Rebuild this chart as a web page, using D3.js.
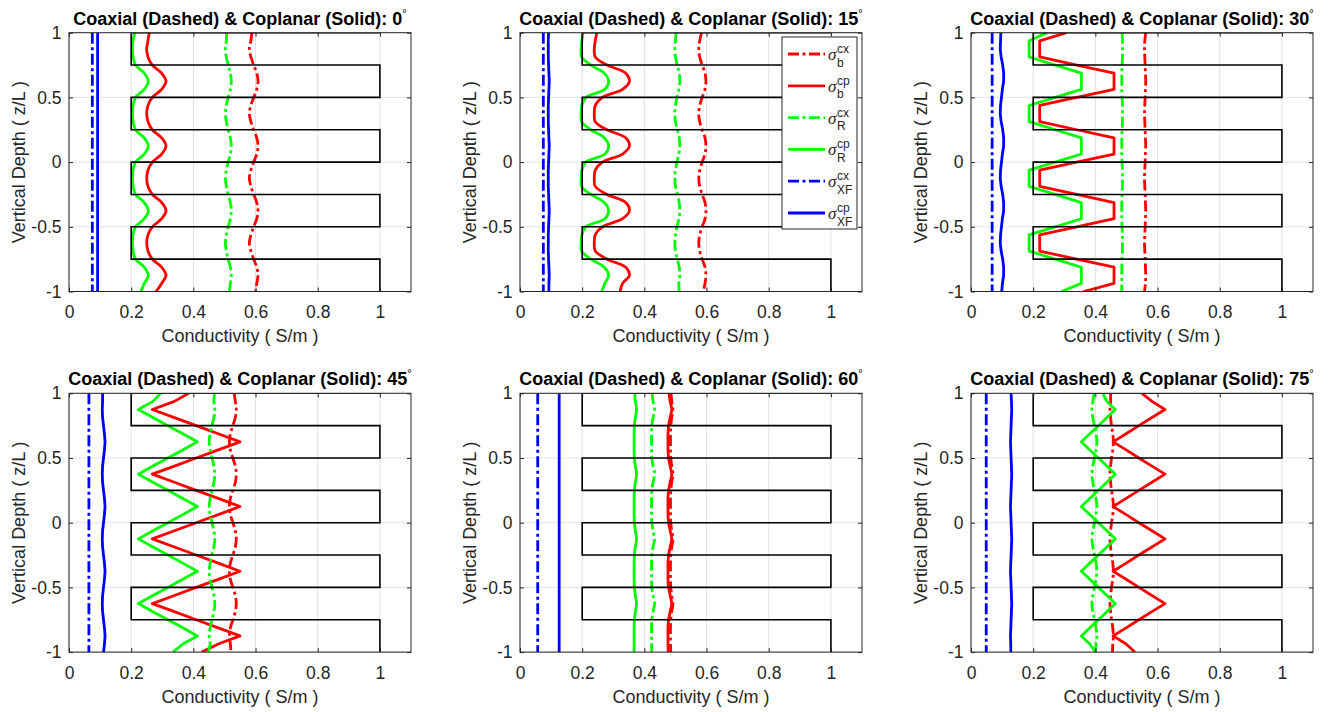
<!DOCTYPE html>
<html>
<head>
<meta charset="utf-8">
<script src="https://cdnjs.cloudflare.com/ajax/libs/d3/7.8.5/d3.min.js"></script>
<style>
  body { margin: 0; background: #fff; }
  svg { display: block; font-family: 'Liberation Sans', Arial, sans-serif; }
</style>
</head>
<body>
<div id="viz"></div>
<script>
// dip angles, one panel each
const angles = [0, 15, 30, 45, 60, 75];

// depth grid (z/L) shared by every curve
const depth = [1, 0.9375, 0.875, 0.8125, 0.75, 0.6875, 0.625, 0.5625, 0.5, 0.4375, 0.375, 0.3125, 0.25, 0.1875, 0.125, 0.0625,
  0, -0.0625, -0.125, -0.1875, -0.25, -0.3125, -0.375, -0.4375, -0.5, -0.5625, -0.625, -0.6875, -0.75, -0.8125, -0.875, -0.9375, -1];

const xTicks = [0, 0.2, 0.4, 0.6, 0.8, 1];
const yTicks = [-1, -0.5, 0, 0.5, 1];

// layered model (black staircase)
const layerSigma = [1, 0.2, 0.2, 1, 1, 0.2, 0.2, 1, 1, 0.2, 0.2, 1, 1, 0.2, 0.2, 1, 1];
const layerDepth = [1, 1, 0.75, 0.75, 0.5, 0.5, 0.25, 0.25, 0, 0, -0.25, -0.25, -0.5, -0.5, -0.75, -0.75, -1];

// one row per angle, values on the depth grid
const sigmaBcx = [
  [0.588, 0.585,0.580,0.585,0.594,0.604,0.608,0.604,0.594, 0.585,0.580,0.585,0.594,0.604,0.608,0.604,0.594, 0.585,0.580,0.585,0.594,0.604,0.608,0.604,0.594, 0.585,0.580,0.585,0.594,0.604,0.608,0.604, 0.600],
  [0.584, 0.578,0.575,0.578,0.586,0.595,0.598,0.595,0.586, 0.578,0.575,0.578,0.586,0.595,0.598,0.595,0.586, 0.578,0.575,0.578,0.586,0.595,0.598,0.595,0.586, 0.578,0.575,0.578,0.586,0.595,0.598,0.595, 0.589],
  [0.562, 0.559,0.558,0.559,0.560,0.561,0.562,0.561,0.560, 0.559,0.558,0.559,0.560,0.561,0.562,0.561,0.560, 0.559,0.558,0.559,0.560,0.561,0.562,0.561,0.560, 0.559,0.558,0.559,0.560,0.561,0.562,0.561, 0.558],
  [0.531, 0.535,0.538,0.535,0.527,0.519,0.516,0.519,0.527, 0.535,0.538,0.535,0.527,0.519,0.516,0.519,0.527, 0.535,0.538,0.535,0.527,0.519,0.516,0.519,0.527, 0.535,0.538,0.535,0.527,0.519,0.516,0.519, 0.521],
  [0.486, 0.488,0.492,0.488,0.485,0.484,0.484,0.484,0.485, 0.488,0.492,0.488,0.485,0.484,0.484,0.484,0.485, 0.488,0.492,0.488,0.485,0.484,0.484,0.484,0.485, 0.488,0.492,0.488,0.485,0.484,0.484,0.484, 0.485],
  [0.449, 0.449,0.447,0.449,0.452,0.456,0.458,0.456,0.452, 0.449,0.447,0.449,0.452,0.456,0.458,0.456,0.452, 0.449,0.447,0.449,0.452,0.456,0.458,0.456,0.452, 0.449,0.447,0.449,0.452,0.456,0.458,0.456, 0.455]
];

const sigmaBcp = [
  [0.258, 0.254,0.250,0.254,0.268,0.298,0.312,0.298,0.268, 0.254,0.250,0.254,0.268,0.298,0.312,0.298,0.268, 0.254,0.250,0.254,0.268,0.298,0.312,0.298,0.268, 0.254,0.250,0.254,0.268,0.298,0.312,0.298, 0.280],
  [0.247, 0.242,0.239,0.242,0.280,0.340,0.352,0.330,0.265, 0.242,0.239,0.242,0.280,0.340,0.352,0.330,0.265, 0.242,0.239,0.242,0.280,0.340,0.352,0.330,0.265, 0.242,0.239,0.242,0.280,0.340,0.352,0.330, 0.322],
  [0.307, 0.221,0.221,0.221,0.340,0.460,0.460,0.460,0.340, 0.221,0.221,0.221,0.340,0.460,0.460,0.460,0.340, 0.221,0.221,0.221,0.340,0.460,0.460,0.460,0.340, 0.221,0.221,0.221,0.340,0.460,0.460,0.460, 0.362],
  [0.385, 0.339,0.268,0.339,0.409,0.480,0.550,0.480,0.409, 0.339,0.268,0.339,0.409,0.480,0.550,0.480,0.409, 0.339,0.268,0.339,0.409,0.480,0.550,0.480,0.409, 0.339,0.268,0.339,0.409,0.480,0.550,0.480, 0.427],
  [0.479, 0.483,0.488,0.483,0.478,0.476,0.476,0.476,0.478, 0.483,0.488,0.483,0.478,0.476,0.476,0.476,0.478, 0.483,0.488,0.483,0.478,0.476,0.476,0.476,0.478, 0.483,0.488,0.483,0.478,0.476,0.476,0.476, 0.477],
  [0.550, 0.582,0.624,0.582,0.540,0.499,0.457,0.499,0.540, 0.582,0.624,0.582,0.540,0.499,0.457,0.499,0.540, 0.582,0.624,0.582,0.540,0.499,0.457,0.499,0.540, 0.582,0.624,0.582,0.540,0.499,0.457,0.499, 0.527]
];

const sigmaRcx = [
  [0.507, 0.506,0.503,0.506,0.512,0.519,0.522,0.519,0.512, 0.506,0.503,0.506,0.512,0.519,0.522,0.519,0.512, 0.506,0.503,0.506,0.512,0.519,0.522,0.519,0.512, 0.506,0.503,0.506,0.512,0.519,0.522,0.519, 0.516],
  [0.502, 0.500,0.498,0.500,0.506,0.512,0.514,0.511,0.505, 0.500,0.498,0.500,0.506,0.512,0.514,0.511,0.505, 0.500,0.498,0.500,0.506,0.512,0.514,0.511,0.505, 0.500,0.498,0.500,0.506,0.512,0.514,0.511, 0.512],
  [0.486, 0.487,0.487,0.487,0.486,0.485,0.485,0.485,0.486, 0.487,0.487,0.487,0.486,0.485,0.485,0.485,0.486, 0.487,0.487,0.487,0.486,0.485,0.485,0.485,0.486, 0.487,0.487,0.487,0.486,0.485,0.485,0.485, 0.485],
  [0.468, 0.466,0.469,0.466,0.460,0.454,0.451,0.454,0.460, 0.466,0.469,0.466,0.460,0.454,0.451,0.454,0.460, 0.466,0.469,0.466,0.460,0.454,0.451,0.454,0.460, 0.466,0.469,0.466,0.460,0.454,0.451,0.454, 0.448],
  [0.425, 0.428,0.433,0.428,0.424,0.423,0.423,0.423,0.424, 0.428,0.433,0.428,0.424,0.423,0.423,0.423,0.424, 0.428,0.433,0.428,0.424,0.423,0.423,0.423,0.424, 0.428,0.433,0.428,0.424,0.423,0.423,0.423, 0.424],
  [0.396, 0.392,0.389,0.392,0.397,0.402,0.405,0.402,0.397, 0.392,0.389,0.392,0.397,0.402,0.405,0.402,0.397, 0.392,0.389,0.392,0.397,0.402,0.405,0.402,0.397, 0.392,0.389,0.392,0.397,0.402,0.405,0.402, 0.400]
];

const sigmaRcp = [
  [0.212, 0.206,0.204,0.206,0.214,0.242,0.255,0.242,0.214, 0.206,0.204,0.206,0.214,0.242,0.255,0.242,0.214, 0.206,0.204,0.206,0.214,0.242,0.255,0.242,0.214, 0.206,0.204,0.206,0.214,0.242,0.255,0.242, 0.232],
  [0.203, 0.199,0.197,0.198,0.228,0.271,0.285,0.273,0.212, 0.199,0.197,0.198,0.228,0.271,0.285,0.273,0.212, 0.199,0.197,0.198,0.228,0.271,0.285,0.273,0.212, 0.199,0.197,0.198,0.228,0.271,0.285,0.273, 0.263],
  [0.245, 0.187,0.187,0.187,0.271,0.355,0.355,0.355,0.271, 0.187,0.187,0.187,0.271,0.355,0.355,0.355,0.271, 0.187,0.187,0.187,0.271,0.355,0.355,0.355,0.271, 0.187,0.187,0.187,0.271,0.355,0.355,0.355, 0.291],
  [0.295, 0.270,0.223,0.270,0.318,0.366,0.413,0.366,0.318, 0.270,0.223,0.270,0.318,0.366,0.413,0.366,0.318, 0.270,0.223,0.270,0.318,0.366,0.413,0.366,0.318, 0.270,0.223,0.270,0.318,0.366,0.413,0.366, 0.335],
  [0.369, 0.371,0.375,0.371,0.368,0.367,0.367,0.367,0.368, 0.371,0.375,0.371,0.368,0.367,0.367,0.367,0.368, 0.371,0.375,0.371,0.368,0.367,0.367,0.367,0.368, 0.371,0.375,0.371,0.368,0.367,0.367,0.367, 0.367],
  [0.424, 0.437,0.464,0.437,0.410,0.382,0.355,0.382,0.410, 0.437,0.464,0.437,0.410,0.382,0.355,0.382,0.410, 0.437,0.464,0.437,0.410,0.382,0.355,0.382,0.410, 0.437,0.464,0.437,0.410,0.382,0.355,0.382, 0.400]
];

const sigmaXFcx = [
  [0.075, 0.075,0.075,0.075,0.075,0.075,0.075,0.075,0.075, 0.075,0.075,0.075,0.075,0.075,0.075,0.075,0.075, 0.075,0.075,0.075,0.075,0.075,0.075,0.075,0.075, 0.075,0.075,0.075,0.075,0.075,0.075,0.075, 0.075],
  [0.075, 0.075,0.075,0.075,0.075,0.075,0.075,0.075,0.075, 0.075,0.075,0.075,0.075,0.075,0.075,0.075,0.075, 0.075,0.075,0.075,0.075,0.075,0.075,0.075,0.075, 0.075,0.075,0.075,0.075,0.075,0.075,0.075, 0.075],
  [0.068, 0.068,0.068,0.068,0.068,0.068,0.068,0.068,0.068, 0.068,0.068,0.068,0.068,0.068,0.068,0.068,0.068, 0.068,0.068,0.068,0.068,0.068,0.068,0.068,0.068, 0.068,0.068,0.068,0.068,0.068,0.068,0.068, 0.068],
  [0.064, 0.064,0.064,0.064,0.064,0.064,0.064,0.064,0.064, 0.064,0.064,0.064,0.064,0.064,0.064,0.064,0.064, 0.064,0.064,0.064,0.064,0.064,0.064,0.064,0.064, 0.064,0.064,0.064,0.064,0.064,0.064,0.064, 0.064],
  [0.057, 0.057,0.057,0.057,0.057,0.057,0.057,0.057,0.057, 0.057,0.057,0.057,0.057,0.057,0.057,0.057,0.057, 0.057,0.057,0.057,0.057,0.057,0.057,0.057,0.057, 0.057,0.057,0.057,0.057,0.057,0.057,0.057, 0.057],
  [0.049, 0.049,0.049,0.049,0.049,0.049,0.049,0.049,0.049, 0.049,0.049,0.049,0.049,0.049,0.049,0.049,0.049, 0.049,0.049,0.049,0.049,0.049,0.049,0.049,0.049, 0.049,0.049,0.049,0.049,0.049,0.049,0.049, 0.049]
];

const sigmaXFcp = [
  [0.092, 0.092,0.092,0.092,0.092,0.092,0.092,0.092,0.092, 0.092,0.092,0.092,0.092,0.092,0.092,0.092,0.092, 0.092,0.092,0.092,0.092,0.092,0.092,0.092,0.092, 0.092,0.092,0.092,0.092,0.092,0.092,0.092, 0.092],
  [0.092, 0.091,0.091,0.091,0.092,0.093,0.094,0.093,0.092, 0.091,0.091,0.091,0.092,0.093,0.094,0.093,0.092, 0.091,0.091,0.091,0.092,0.093,0.094,0.093,0.092, 0.091,0.091,0.091,0.092,0.093,0.094,0.093, 0.093],
  [0.096, 0.095,0.094,0.097,0.102,0.105,0.105,0.101,0.098, 0.095,0.094,0.097,0.102,0.105,0.105,0.101,0.098, 0.095,0.094,0.097,0.102,0.105,0.105,0.101,0.098, 0.095,0.094,0.097,0.102,0.105,0.105,0.101, 0.099],
  [0.108, 0.108,0.107,0.108,0.111,0.114,0.116,0.114,0.111, 0.108,0.107,0.108,0.111,0.114,0.116,0.114,0.111, 0.108,0.107,0.108,0.111,0.114,0.116,0.114,0.111, 0.108,0.107,0.108,0.111,0.114,0.116,0.114, 0.111],
  [0.126, 0.126,0.126,0.126,0.126,0.126,0.126,0.126,0.126, 0.126,0.126,0.126,0.126,0.126,0.126,0.126,0.126, 0.126,0.126,0.126,0.126,0.126,0.126,0.126,0.126, 0.126,0.126,0.126,0.126,0.126,0.126,0.126, 0.126],
  [0.129, 0.130,0.131,0.130,0.129,0.128,0.127,0.128,0.129, 0.130,0.131,0.130,0.129,0.128,0.127,0.128,0.129, 0.130,0.131,0.130,0.129,0.128,0.127,0.128,0.129, 0.130,0.131,0.130,0.129,0.128,0.127,0.128, 0.128]
];

// angles where the coplanar curves have sharp corners
const sharpAngles = [30, 45, 75];

const series = [
  { values: sigmaBcx, color: '#ff0000', dashed: true, sup: 'cx', sub: 'b' },
  { values: sigmaBcp, color: '#ff0000', dashed: false, sup: 'cp', sub: 'b' },
  { values: sigmaRcx, color: '#00ff00', dashed: true, sup: 'cx', sub: 'R' },
  { values: sigmaRcp, color: '#00ff00', dashed: false, sup: 'cp', sub: 'R' },
  { values: sigmaXFcx, color: '#0000ff', dashed: true, sup: 'cx', sub: 'XF' },
  { values: sigmaXFcp, color: '#0000ff', dashed: false, sup: 'cp', sub: 'XF' }
];

const dashDot = '11,3.5,3,3.5';
const panelLeft = [69, 520, 971];
const panelTop = [32.7, 393.3];
const pw = 342, ph = 258.8;
const axisColor = '#262626';

let svg = d3.select('#viz').append('svg')
  .attr('width', 1330)
  .attr('height', 712);

angles.forEach((angle, k) => buildPanel(angle, k));

function buildPanel(angle, k) {
  let left = panelLeft[k % 3],
    top = panelTop[Math.floor(k / 3)];

  let x = d3.scaleLinear().domain([0, 1.1]).range([0, pw]);
  let y = d3.scaleLinear().domain([-1, 1]).range([ph, 0]);

  let g = svg.append('g')
    .attr('transform', 'translate(' + left + ',' + top + ')');

  g.append('clipPath').attr('id', 'clip' + k)
    .append('rect').attr('width', pw).attr('height', ph);

  // grid
  g.selectAll('.gx').data(xTicks).enter().append('line')
    .attr('x1', d => x(d)).attr('x2', d => x(d))
    .attr('y1', 0).attr('y2', ph)
    .attr('stroke', '#e3e3e3').attr('stroke-width', 1);
  g.selectAll('.gy').data(yTicks).enter().append('line')
    .attr('x1', 0).attr('x2', pw)
    .attr('y1', d => y(d)).attr('y2', d => y(d))
    .attr('stroke', '#e3e3e3').attr('stroke-width', 1);

  let plot = g.append('g').attr('clip-path', 'url(#clip' + k + ')');
  let sharp = sharpAngles.indexOf(angle) >= 0;

  series.forEach(s => {
    let pts = depth.map((z, i) => [s.values[k][i], z]);
    let line = d3.line()
      .x(d => x(d[0]))
      .y(d => y(d[1]))
      .curve(sharp && !s.dashed ? d3.curveLinear : d3.curveCatmullRom.alpha(0.5));
    plot.append('path')
      .datum(pts)
      .attr('d', line)
      .attr('fill', 'none')
      .attr('stroke', s.color)
      .attr('stroke-width', 2.8)
      .attr('stroke-linejoin', 'round')
      .attr('stroke-dasharray', s.dashed ? dashDot : null);
  });

  // layered conductivity model
  let profile = layerDepth.map((z, i) => [layerSigma[i], z]);
  plot.append('path')
    .datum(profile)
    .attr('d', d3.line().x(d => x(d[0])).y(d => y(d[1])))
    .attr('fill', 'none')
    .attr('stroke', '#000')
    .attr('stroke-width', 1.6);

  // axes, ticks pointing inward on all four sides
  let fmt = d => String(d);
  let ax = [
    g.append('g').attr('transform', 'translate(0,' + ph + ')')
      .call(d3.axisBottom(x).tickValues(xTicks).tickSizeInner(-4).tickSizeOuter(0).tickPadding(14).tickFormat(fmt)),
    g.append('g')
      .call(d3.axisLeft(y).tickValues(yTicks).tickSizeInner(-4).tickSizeOuter(0).tickPadding(7.5).tickFormat(fmt)),
    g.append('g')
      .call(d3.axisTop(x).tickValues(xTicks).tickSizeInner(-4).tickSizeOuter(0).tickFormat('')),
    g.append('g').attr('transform', 'translate(' + pw + ',0)')
      .call(d3.axisRight(y).tickValues(yTicks).tickSizeInner(-4).tickSizeOuter(0).tickFormat(''))
  ];
  ax.forEach(a => {
    a.select('.domain').remove();
    a.selectAll('line').attr('stroke', axisColor);
    a.selectAll('text')
      .attr('fill', axisColor)
      .style('font-family', "'Liberation Sans', Arial, sans-serif")
      .style('font-size', '17.5px');
  });

  g.append('rect')
    .attr('width', pw).attr('height', ph)
    .attr('fill', 'none')
    .attr('stroke', axisColor)
    .attr('stroke-width', 1);

  // labels
  let title = g.append('text')
    .attr('x', pw / 2)
    .attr('y', -8)
    .attr('text-anchor', 'middle')
    .style('font-size', '18px')
    .style('font-weight', 'bold')
    .attr('fill', '#000')
    .text('Coaxial (Dashed) & Coplanar (Solid): ' + angle);
  title.append('tspan')
    .attr('dy', -8)
    .style('font-size', '11px')
    .style('font-weight', 'normal')
    .text('°');

  g.append('text')
    .attr('x', pw / 2)
    .attr('y', ph + 50.5)
    .attr('text-anchor', 'middle')
    .attr('fill', axisColor)
    .style('font-size', '18px')
    .text('Conductivity ( S/m )');

  g.append('text')
    .attr('transform', 'translate(-44,' + (ph / 2) + ') rotate(-90)')
    .attr('text-anchor', 'middle')
    .attr('fill', axisColor)
    .style('font-size', '18px')
    .text('Vertical Depth ( z/L )');

  if (k === 1) buildLegend(g);
}

function buildLegend(g) {
  let lw = 75, lh = 192;
  let lg = g.append('g')
    .attr('transform', 'translate(' + (pw - 5 - lw) + ',4.3)');

  lg.append('rect')
    .attr('width', lw).attr('height', lh)
    .attr('fill', '#fff')
    .attr('stroke', axisColor)
    .attr('stroke-width', 1);

  series.forEach((s, i) => {
    let cy = 17 + i * 31.8;
    lg.append('line')
      .attr('x1', 6).attr('x2', 43)
      .attr('y1', cy).attr('y2', cy)
      .attr('stroke', s.color)
      .attr('stroke-width', 2.8)
      .attr('stroke-dasharray', s.dashed ? dashDot : null);
    lg.append('text')
      .attr('x', 46).attr('y', cy + 6)
      .attr('fill', axisColor)
      .style('font-family', "'Liberation Serif', serif")
      .style('font-style', 'italic')
      .style('font-size', '17px')
      .text('σ');
    lg.append('text')
      .attr('x', 55).attr('y', cy - 1)
      .attr('fill', axisColor)
      .style('font-size', '12px')
      .text(s.sup);
    lg.append('text')
      .attr('x', 55).attr('y', cy + 12.5)
      .attr('fill', axisColor)
      .style('font-size', '12px')
      .text(s.sub);
  });
}
</script>
</body>
</html>
